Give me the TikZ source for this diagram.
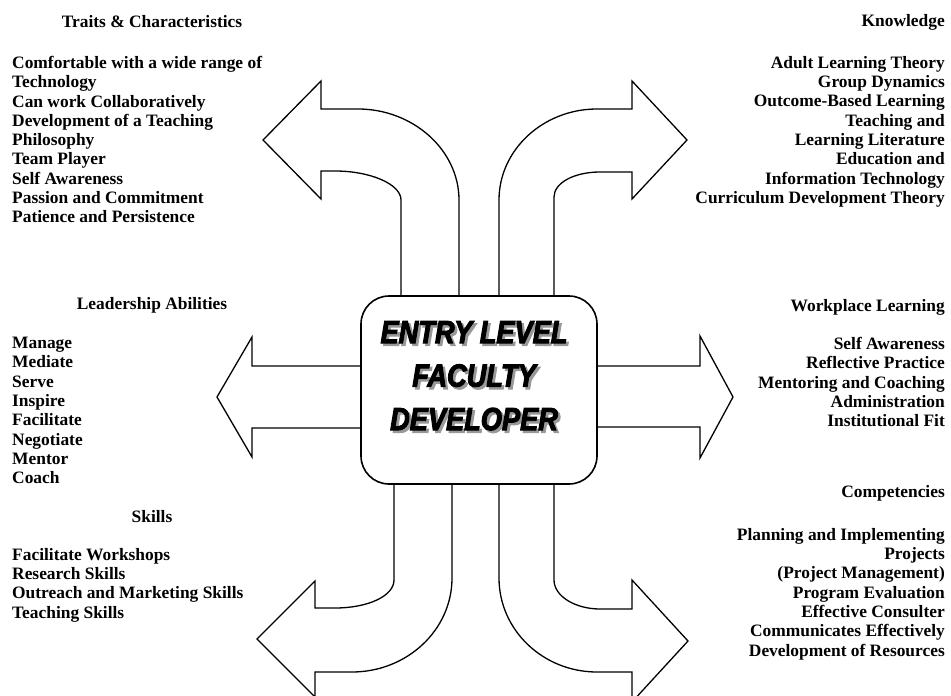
\documentclass[tikz,border=0pt]{standalone}
\usepackage{fontspec}
\setmainfont{Liberation Serif}
\newfontfamily\titlefont{Liberation Sans}[FakeStretch=0.85,FakeBold=3]
% grey copy behind the title letters
\newcommand\dropline[1]{\makebox[0pt][l]{\hspace{2.5pt}\raisebox{-2.5pt}{\textcolor{black!40}{#1}}}#1}

\begin{document}
\begin{tikzpicture}[x=1pt,y=-1pt]
\tikzset{every node/.style={inner sep=0pt,font=\bfseries\fontsize{17.4}{19.3}\selectfont},
  blockarrow/.style={draw=black,fill=white,line width=1.3pt,line join=miter},
  leftlist/.style={anchor=north west,align=left},
  rightlist/.style={anchor=north east,align=right},
  heading/.style={anchor=center},
  titletext/.style={align=center,font=\titlefont\bfseries\itshape\fontsize{32}{43.5}\selectfont}}
\fill[white] (0,0) rectangle (951,696);
\useasboundingbox (0,0) rectangle (951,696);

% arrows first, the box goes on top
% up left
\draw[blockarrow] (401,296) -- (401,200) .. controls (401,184) and (370,171) .. (335,171)
  -- (321,171) -- (321,199) -- (263,140) -- (321,81) -- (321,109) -- (358,109)
  .. controls (413,109) and (459,150) .. (459,200) -- (459,296) -- cycle;
% up right
\draw[blockarrow] (554,296) -- (554,197) .. controls (554,183) and (574,172) .. (600,172)
  -- (632,172) -- (632,199) -- (687,140) -- (632,81) -- (632,109) -- (597,109)
  .. controls (543,109) and (499,150) .. (499,200) -- (499,296) -- cycle;
% left
\draw[blockarrow] (361,366) -- (252,366) -- (252,337) -- (217,397) -- (252,457)
  -- (252,428) -- (361,428) -- cycle;
% right
\draw[blockarrow] (596,366) -- (700,366) -- (700,336) -- (733,397) -- (700,458)
  -- (700,427) -- (596,427) -- cycle;
% down left
\draw[blockarrow] (394,484) -- (394,580) .. controls (394,596) and (368,608) .. (335,608)
  -- (315,608) -- (315,581) -- (257,639) -- (315,697) -- (315,672) -- (352,672)
  .. controls (407,672) and (452,630) .. (452,578) -- (452,484) -- cycle;
% down right
\draw[blockarrow] (554,484) -- (554,580) .. controls (554,596) and (575,609) .. (600,609)
  -- (632,609) -- (632,580) -- (688,641) -- (632,702) -- (632,672) -- (597,672)
  .. controls (543,672) and (499,630) .. (499,578) -- (499,484) -- cycle;

% centre box
\node[draw=black,fill=white,line width=1.6pt,rounded corners=28pt,
  minimum width=236pt,minimum height=188pt] (core) at (479,390) {};
\node[titletext] (title) at (474,377) {\dropline{ENTRY LEVEL}\\\dropline{FACULTY}\\\dropline{DEVELOPER}};

% left side
\node[heading] (traits) at (152,22) {Traits \& Characteristics};
\node[leftlist] (traitlist) at (12,56) {Comfortable with a wide range of\\Technology\\
  Can work Collaboratively\\Development of a Teaching\\Philosophy\\Team Player\\
  Self Awareness\\Passion and Commitment\\Patience and Persistence};
\node[heading] (lead) at (152,305) {Leadership Abilities};
\node[leftlist] (leadlist) at (12,337) {Manage\\Mediate\\Serve\\Inspire\\Facilitate\\
  Negotiate\\Mentor\\Coach};
\node[heading] (skills) at (152,517) {Skills};
\node[leftlist] (skilllist) at (12,548) {Facilitate Workshops\\Research Skills\\
  Outreach and Marketing Skills\\Teaching Skills};

% right side
\node[anchor=east] (know) at (945,22) {Knowledge};
\node[rightlist] (knowlist) at (945,56) {Adult Learning Theory\\Group Dynamics\\
  Outcome-Based Learning\\Teaching and\\Learning Literature\\Education and\\
  Information Technology\\Curriculum Development Theory};
\node[anchor=east] (work) at (945,307) {Workplace Learning};
\node[rightlist] (worklist) at (945,337) {Self Awareness\\Reflective Practice\\
  Mentoring and Coaching\\Administration\\Institutional Fit};
\node[anchor=east] (comp) at (945,493) {Competencies};
\node[rightlist] (complist) at (945,528) {Planning and Implementing\\Projects\\
  (Project Management)\\Program Evaluation\\Effective Consulter\\
  Communicates Effectively\\Development of Resources};
\end{tikzpicture}
\end{document}
